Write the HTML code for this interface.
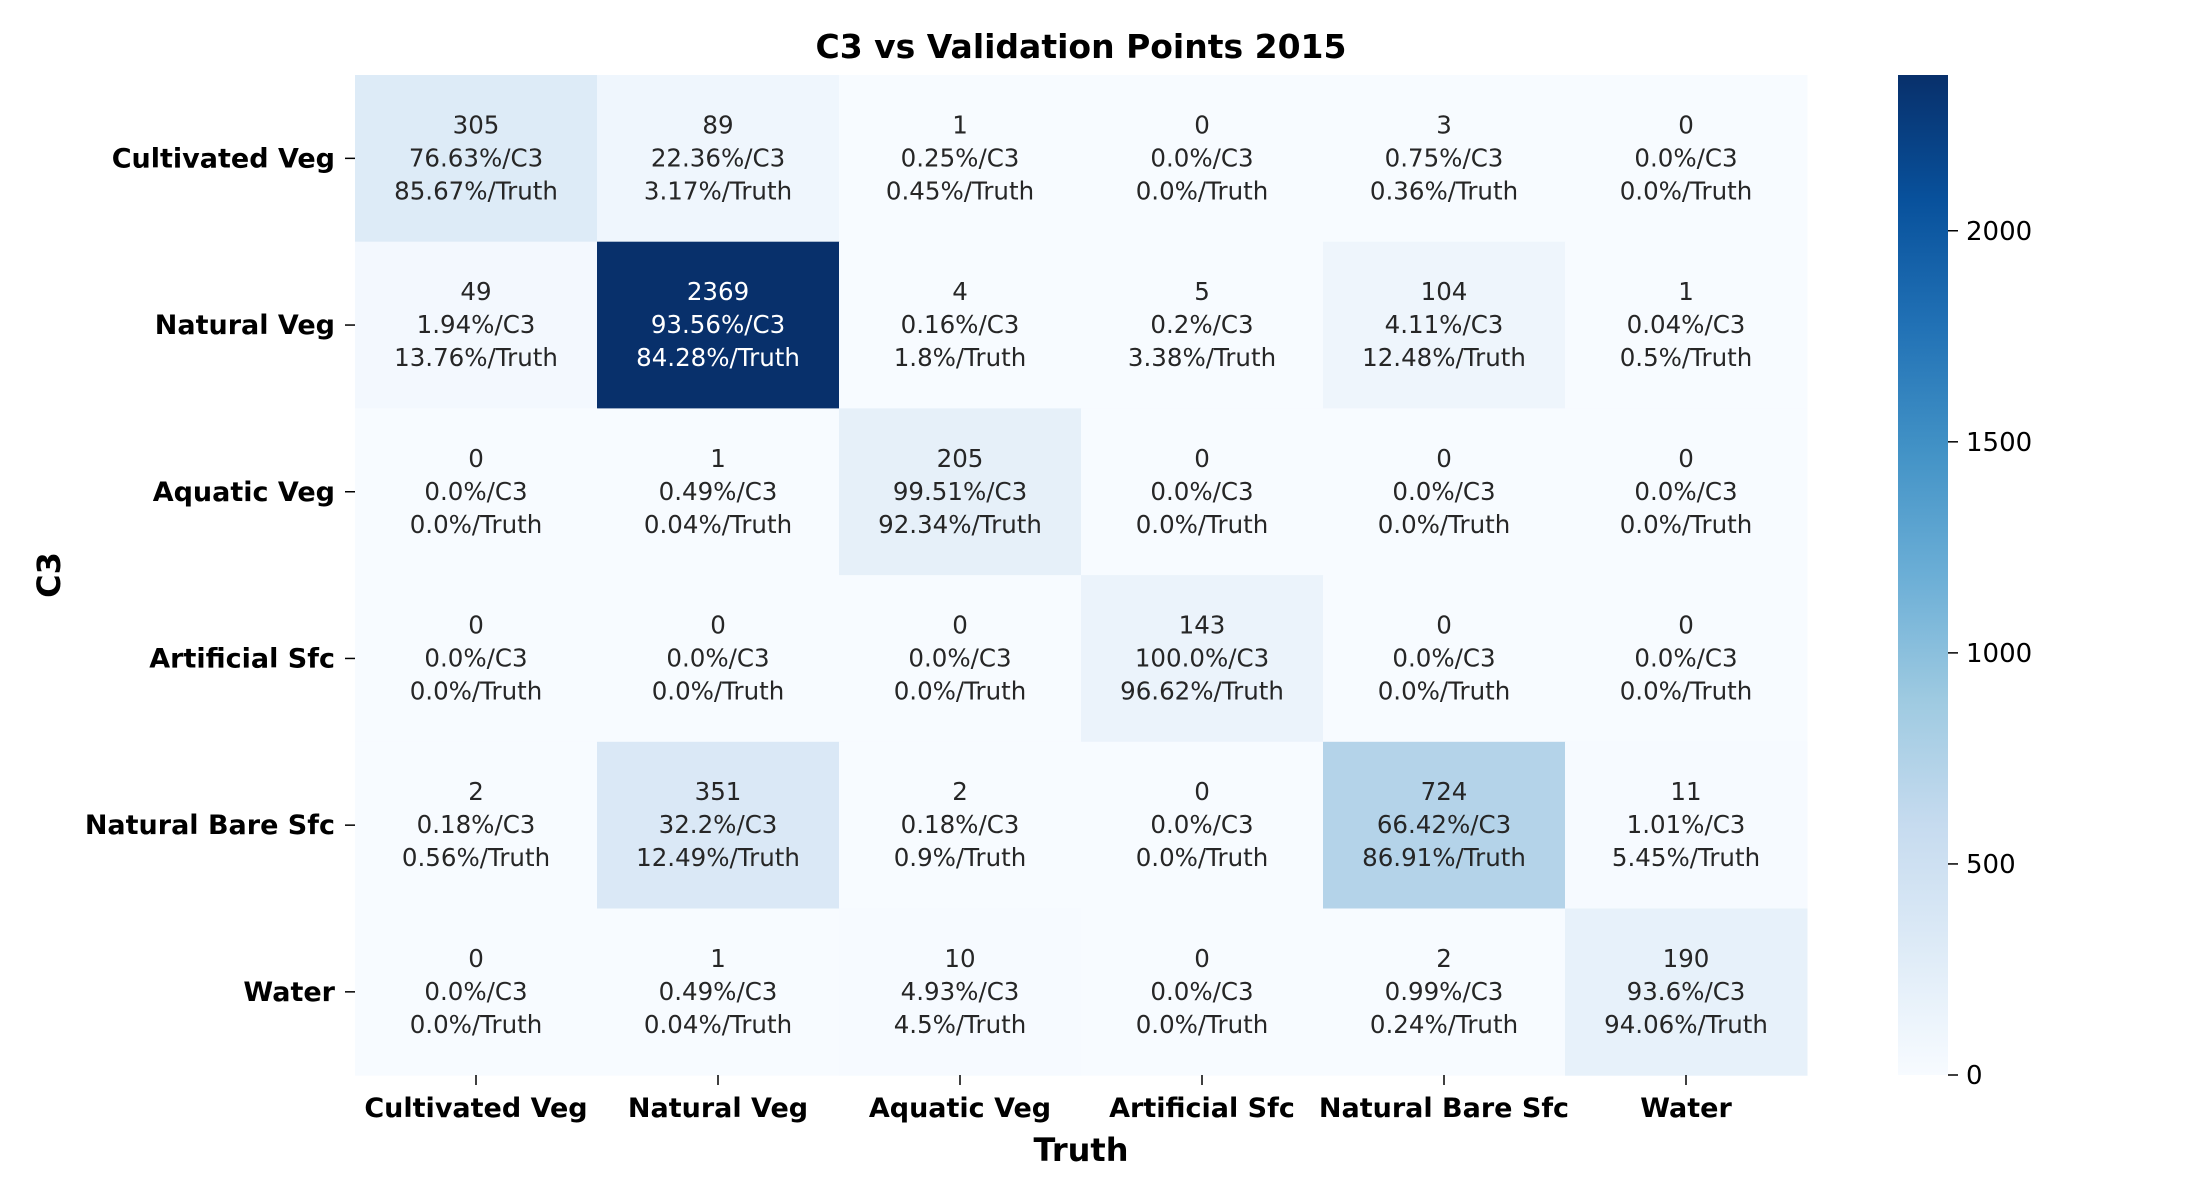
<!DOCTYPE html>
<html><head><meta charset="utf-8"><style>
html,body{margin:0;padding:0;background:#fff;}
svg{display:block;font-family:"DejaVu Sans","Liberation Sans",sans-serif;}
</style></head><body>
<svg id="chart" width="2200" height="1200" viewBox="0 0 2200 1200" xmlns="http://www.w3.org/2000/svg">
<defs><linearGradient id="blues" x1="0" y1="1" x2="0" y2="0"></linearGradient></defs>
<text x="1081" y="58" text-anchor="middle" font-size="33" font-weight="bold">C3 vs Validation Points 2015</text>
<text x="1081" y="1161" text-anchor="middle" font-size="32" font-weight="bold">Truth</text>
<text transform="translate(60,575) rotate(-90)" text-anchor="middle" font-size="32" font-weight="bold">C3</text>
<g id="cells"></g><g id="xt"></g><g id="yt"></g><g id="cb"></g>
</svg>
<script>
const categories=["Cultivated Veg","Natural Veg","Aquatic Veg","Artificial Sfc","Natural Bare Sfc","Water"];
const counts=[[305,89,1,0,3,0],[49,2369,4,5,104,1],[0,1,205,0,0,0],[0,0,0,143,0,0],[2,351,2,0,724,11],[0,1,10,0,2,190]];
const pctC3=[["76.63","22.36","0.25","0.0","0.75","0.0"],["1.94","93.56","0.16","0.2","4.11","0.04"],["0.0","0.49","99.51","0.0","0.0","0.0"],["0.0","0.0","0.0","100.0","0.0","0.0"],["0.18","32.2","0.18","0.0","66.42","1.01"],["0.0","0.49","4.93","0.0","0.99","93.6"]];
const pctTruth=[["85.67","3.17","0.45","0.0","0.36","0.0"],["13.76","84.28","1.8","3.38","12.48","0.5"],["0.0","0.04","92.34","0.0","0.0","0.0"],["0.0","0.0","0.0","96.62","0.0","0.0"],["0.56","12.49","0.9","0.0","86.91","5.45"],["0.0","0.04","4.5","0.0","0.24","94.06"]];
const cbTicks=[0,500,1000,1500,2000];
const NS="http://www.w3.org/2000/svg";
const L=355,T=75,CW=242,CH=166.7,VMAX=2369;
const stops=["#f7fbff","#deebf7","#c6dbef","#9ecae1","#6baed6","#4292c6","#2171b5","#08519c","#08306b"];
function hex(h){return [1,3,5].map(i=>parseInt(h.substr(i,2),16));}
function color(v){let t=Math.max(0,Math.min(1,v/VMAX))*(stops.length-1);let i=Math.min(stops.length-2,Math.floor(t));let f=t-i;let a=hex(stops[i]),b=hex(stops[i+1]);let c=a.map((x,k)=>Math.round(x+(b[k]-x)*f));return {s:`rgb(${c})`,lum:(0.299*c[0]+0.587*c[1]+0.114*c[2])/255};}
function el(tag,attrs,parent){const e=document.createElementNS(NS,tag);for(const k in attrs)e.setAttribute(k,attrs[k]);parent.appendChild(e);return e;}
const xS=j=>L+j*CW, yS=i=>T+i*CH;
const cells=document.getElementById('cells');
counts.forEach((row,i)=>row.forEach((v,j)=>{
  const c=color(v);
  const r=el('rect',{x:xS(j),y:yS(i),width:CW+0.5,height:CH+0.5,fill:c.s},cells);
  
  
  const tc=c.lum<0.5?'#fff':'#262626';
  const cx=xS(j)+CW/2, cy=yS(i)+CH/2;
  const lines=[String(v),pctC3[i][j]+"%/C3",pctTruth[i][j]+"%/Truth"];
  lines.forEach((s,k)=>{
    const t=el('text',{x:cx,y:cy+(k-1)*33+8,'text-anchor':'middle','font-size':24.5,fill:tc},cells);
    
    
    t.textContent=s;
  });
}));
const xt=document.getElementById('xt'), yt=document.getElementById('yt');
categories.forEach((c,j)=>{
  const x=xS(j)+CW/2;
  el('line',{x1:x,x2:x,y1:1075,y2:1085,stroke:'#000','stroke-width':1.5},xt);
  const t=el('text',{x:x,y:1117,'text-anchor':'middle','font-size':27,'font-weight':'bold'},xt);
  
  
  t.textContent=c;
  const y=yS(j)+CH/2;
  el('line',{x1:345,x2:355,y1:y,y2:y,stroke:'#000','stroke-width':1.5},yt);
  const u=el('text',{x:335,y:y+9,'text-anchor':'end','font-size':27,'font-weight':'bold'},yt);
  
  
  u.textContent=c;
});
const g=document.getElementById('blues');
stops.forEach((s,i)=>el('stop',{offset:(i/(stops.length-1)),'stop-color':s},g));
const cb=document.getElementById('cb');
const CB0=1075,CB1=75,cbY=v=>CB0-(CB0-CB1)*v/VMAX;
const bar=el('rect',{x:1898,y:CB1,width:50,height:CB0-CB1,fill:'url(#blues)'},cb);


cbTicks.forEach(v=>{
  const y=cbY(v);
  el('line',{x1:1948,x2:1958,y1:y,y2:y,stroke:'#000','stroke-width':1.5},cb);
  const t=el('text',{x:1966,y:y+9,'font-size':26},cb);
  
  
  t.textContent=v;
});
</script>
</body></html>
